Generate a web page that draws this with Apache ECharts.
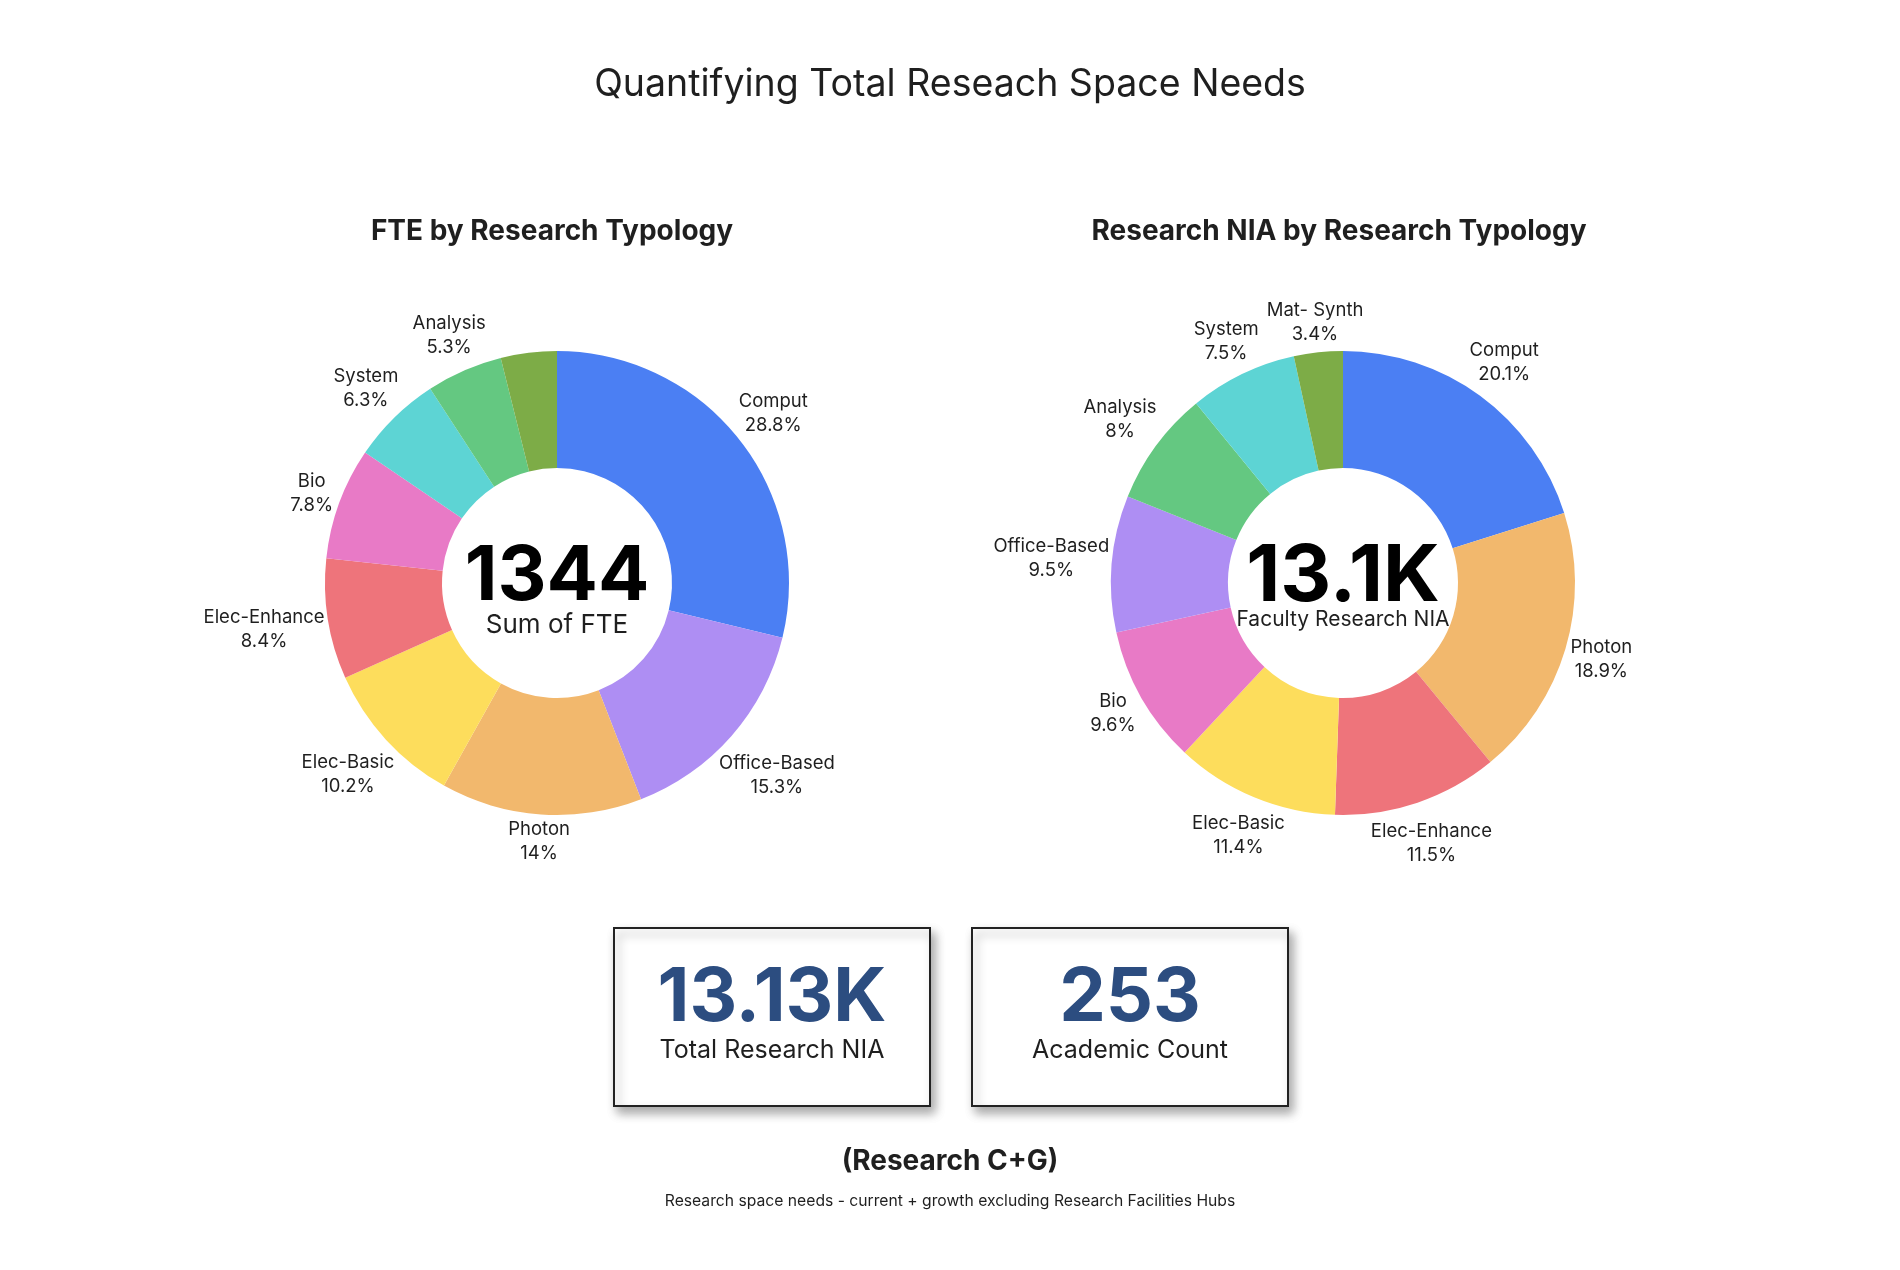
<!DOCTYPE html>
<html>
<head>
<meta charset="utf-8">
<title>Quantifying Total Reseach Space Needs</title>
<script src="https://cdn.jsdelivr.net/npm/echarts@6/dist/echarts.min.js"></script>
<style>
  html, body { margin: 0; padding: 0; background: #fff; }
  #main { width: 1900px; height: 1270px; }
</style>
</head>
<body>
<div id="main"></div>
<script>
// FTE donut, clockwise from 12 o'clock (percent of FTE)
var fteNames = ['Comput', 'Office-Based', 'Photon', 'Elec-Basic', 'Elec-Enhance', 'Bio', 'System', 'Analysis', 'Mat- Synth'];
var fteShares = [28.8, 15.3, 14, 10.2, 8.4, 7.8, 6.3, 5.3, 3.9];
var fteHidden = ['Mat- Synth']; // slice drawn but label not shown in the reference

// Research NIA donut, clockwise from 12 o'clock (percent of NIA)
var niaNames = ['Comput', 'Photon', 'Elec-Enhance', 'Elec-Basic', 'Bio', 'Office-Based', 'Analysis', 'System', 'Mat- Synth'];
var niaShares = [20.1, 18.9, 11.5, 11.4, 9.6, 9.5, 8, 7.5, 3.4];

// headline numbers
var fteTotal = '1344';
var fteTotalLabel = 'Sum of FTE';
var niaTotal = '13.1K';
var niaTotalLabel = 'Faculty Research NIA';
var cards = [
  { value: '13.13K', label: 'Total Research NIA' },
  { value: '253', label: 'Academic Count' }
];

// one colour per typology, shared by both donuts
var typologyColors = {
  'Comput': '#4B7FF3',
  'Office-Based': '#AE8EF3',
  'Photon': '#F2B86D',
  'Elec-Basic': '#FDDD5C',
  'Elec-Enhance': '#EE747B',
  'Bio': '#E87AC6',
  'System': '#5DD4D4',
  'Analysis': '#64C881',
  'Mat- Synth': '#7DAC47'
};

var FONT = 'Inter, "Noto Sans", sans-serif';
var TEXT = '#1f1f1f';
var leftCenter = [557, 583];
var rightCenter = [1343, 583];
var radius = [115, 232];
var GAP = 1;

function buildData(names, shares, hidden) {
  return names.map(function (n, i) {
    var item = { name: n, value: shares[i], itemStyle: { color: typologyColors[n] } };
    if (hidden && hidden.indexOf(n) > -1) {
      item.label = { show: false };
    }
    return item;
  });
}

// put each label just outside the ring, centred on the slice's middle ray
function labelPlacer(center) {
  return function (params) {
    var pts = params.labelLinePoints;
    if (!pts) return {};
    var dx = pts[0][0] - center[0];
    var dy = pts[0][1] - center[1];
    var len = Math.sqrt(dx * dx + dy * dy) || 1;
    var ux = dx / len, uy = dy / len;
    var hw = params.labelRect.width / 2;
    var hh = params.labelRect.height / 2;
    var d = GAP + Math.abs(ux) * hw + Math.abs(uy) * hh;
    return {
      x: pts[0][0] + ux * d,
      y: pts[0][1] + uy * d,
      align: 'center',
      verticalAlign: 'middle'
    };
  };
}

function donut(center, data) {
  return {
    type: 'pie',
    center: center,
    radius: radius,
    startAngle: 90,
    clockwise: true,
    avoidLabelOverlap: false,
    silent: true,
    data: data,
    itemStyle: { borderWidth: 0 },
    label: {
      show: true,
      position: 'outside',
      formatter: function (p) { return p.name + '\n' + p.value + '%'; },
      color: TEXT,
      fontFamily: FONT,
      fontSize: 18.5,
      lineHeight: 24,
      align: 'center'
    },
    labelLine: { show: true, length: 10, length2: 1, lineStyle: { opacity: 0 } },
    labelLayout: labelPlacer(center),
    emphasis: { disabled: true }
  };
}

function text(x, y, str, font, color) {
  return {
    type: 'text',
    x: x,
    y: y,
    silent: true,
    style: {
      text: str,
      font: font,
      fill: color || TEXT,
      textAlign: 'center',
      textVerticalAlign: 'middle'
    }
  };
}

var cardBoxes = [[614, 928], [972, 928]];
var cardW = 316, cardH = 178;

var graphics = [
  text(950, 85, 'Quantifying Total Reseach Space Needs', '37.5px ' + FONT),
  text(552, 232, 'FTE by Research Typology', 'bold 28px ' + FONT),
  text(1339, 232, 'Research NIA by Research Typology', 'bold 28px ' + FONT),
  text(leftCenter[0], 577, fteTotal, 'bold 76px ' + FONT, '#000'),
  text(leftCenter[0], 625, fteTotalLabel, '26px ' + FONT),
  text(rightCenter[0], 577, niaTotal, 'bold 79px ' + FONT, '#000'),
  text(rightCenter[0], 620, niaTotalLabel, '21px ' + FONT),
  text(950, 1162, '(Research C+G)', 'bold 28px ' + FONT),
  text(950, 1201, 'Research space needs - current + growth excluding Research Facilities Hubs', '15.7px ' + FONT)
];

cards.forEach(function (c, i) {
  var bx = cardBoxes[i][0], by = cardBoxes[i][1];
  graphics.push({
    type: 'rect',
    silent: true,
    z: 0,
    shape: { x: bx, y: by, width: cardW, height: cardH },
    style: {
      fill: '#fff',
      stroke: '#222',
      lineWidth: 2,
      shadowBlur: 10,
      shadowOffsetX: 4,
      shadowOffsetY: 6,
      shadowColor: 'rgba(0,0,0,0.35)'
    }
  });
  var t1 = text(bx + cardW / 2, by + 71, c.value, 'bold 74px ' + FONT, '#2C4D80');
  var t2 = text(bx + cardW / 2, by + 122, c.label, '25px ' + FONT);
  t1.z = 1; t2.z = 1;
  graphics.push(t1, t2);
});

var chart = echarts.init(document.getElementById('main'), null, { renderer: 'canvas' });

var option = {
  backgroundColor: '#fff',
  animation: false,
  graphic: { elements: graphics },
  series: [
    donut(leftCenter, buildData(fteNames, fteShares, fteHidden)),
    donut(rightCenter, buildData(niaNames, niaShares))
  ]
};

chart.setOption(option);
</script>
</body>
</html>
